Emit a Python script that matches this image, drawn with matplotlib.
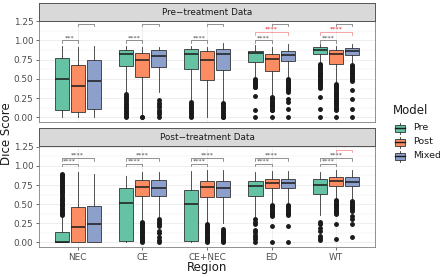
import matplotlib
matplotlib.use("Agg")
import matplotlib.pyplot as plt
from matplotlib.patches import Rectangle
from matplotlib.lines import Line2D

# ---------------- data ----------------
regions = ["NEC", "CE", "CE+NEC", "ED", "WT"]
models = ["Pre", "Post", "Mixed"]
model_colors = ["#66C2A5", "#FC8D62", "#8DA0CB"]
panel_titles = ["Pre\u2212treatment Data", "Post\u2212treatment Data"]
y_ticks = [0.00, 0.25, 0.50, 0.75, 1.00, 1.25]
y_tick_labels = ["0.00", "0.25", "0.50", "0.75", "1.00", "1.25"]

# Pre-treatment panel: per region, [Pre, Post, Mixed]
pre_med = [[0.505, 0.41, 0.475], [0.82, 0.745, 0.80], [0.82, 0.745, 0.82], [0.84, 0.757, 0.81], [0.875, 0.83, 0.86]]
pre_q1 = [[0.09, 0.07, 0.113], [0.67, 0.52, 0.65], [0.625, 0.483, 0.61], [0.72, 0.60, 0.73], [0.818, 0.70, 0.81]]
pre_q3 = [[0.766, 0.675, 0.745], [0.875, 0.84, 0.875], [0.885, 0.86, 0.888], [0.866, 0.83, 0.866], [0.918, 0.875, 0.905]]
pre_lo = [[0.0, 0.0, 0.0], [0.31, 0.03, 0.33], [0.22, 0.0, 0.21], [0.52, 0.28, 0.51], [0.71, 0.45, 0.69]]
pre_hi = [[0.927, 0.91, 0.93], [0.925, 0.92, 0.92], [0.93, 0.92, 0.97], [0.94, 0.92, 0.96], [0.953, 0.93, 0.95]]
pre_fliers = [
    [[], [], []],
    [[0.30, 0.28, 0.26, 0.24, 0.22, 0.20, 0.18, 0.16, 0.14, 0.12, 0.10, 0.08, 0.06, 0.04, 0.02, 0.0],
     [0.01, 0.0],
     [0.22, 0.19, 0.16, 0.13, 0.10, 0.07, 0.04, 0.0]],
    [[0.20, 0.18, 0.16, 0.14, 0.12, 0.10, 0.08, 0.06, 0.04, 0.02, 0.0],
     [],
     [0.19, 0.17, 0.15, 0.13, 0.11, 0.09, 0.07, 0.05, 0.03, 0.01, 0.0]],
    [[0.505, 0.49, 0.475, 0.46, 0.445, 0.43, 0.415, 0.40, 0.39, 0.275, 0.10, 0.0],
     [0.265, 0.25, 0.235, 0.22, 0.205, 0.19, 0.175, 0.16, 0.145, 0.13, 0.115, 0.10, 0.09, 0.0],
     [0.50, 0.485, 0.47, 0.455, 0.44, 0.425, 0.41, 0.395, 0.38, 0.365, 0.35, 0.335, 0.245, 0.20, 0.11, 0.0]],
    [[0.70, 0.685, 0.67, 0.655, 0.64, 0.625, 0.61, 0.595, 0.58, 0.565, 0.55, 0.535, 0.52, 0.505, 0.49,
      0.475, 0.46, 0.445, 0.43, 0.415, 0.40, 0.385, 0.265, 0.11, 0.0],
     [0.44, 0.425, 0.41, 0.395, 0.38, 0.365, 0.35, 0.335, 0.32, 0.305, 0.29, 0.275, 0.26, 0.245, 0.23,
      0.215, 0.20, 0.185, 0.17, 0.155, 0.14, 0.125, 0.11, 0.095, 0.0],
     [0.68, 0.665, 0.65, 0.635, 0.62, 0.605, 0.59, 0.575, 0.56, 0.545, 0.53, 0.515, 0.50, 0.485, 0.47,
      0.35, 0.245, 0.11, 0.0]],
]

# Post-treatment panel
post_med = [[0.01, 0.204, 0.235], [0.52, 0.72, 0.715], [0.50, 0.727, 0.715], [0.735, 0.78, 0.78], [0.75, 0.80, 0.79]]
post_q1 = [[0.0, 0.0, 0.0], [0.02, 0.605, 0.61], [0.02, 0.59, 0.59], [0.605, 0.705, 0.71], [0.627, 0.735, 0.735]]
post_q3 = [[0.14, 0.458, 0.475], [0.705, 0.81, 0.81], [0.69, 0.805, 0.805], [0.805, 0.835, 0.835], [0.827, 0.85, 0.85]]
post_lo = [[0.0, 0.0, 0.0], [0.0, 0.30, 0.32], [0.0, 0.26, 0.26], [0.33, 0.51, 0.51], [0.36, 0.56, 0.57]]
post_hi = [[0.33, 0.92, 0.89], [0.87, 0.92, 0.92], [0.93, 0.945, 0.94], [0.915, 0.93, 0.93], [0.923, 0.94, 0.95]]
post_fliers = [
    [[0.90, 0.885, 0.87, 0.855, 0.84, 0.82, 0.80, 0.785, 0.77, 0.755, 0.74, 0.72, 0.70, 0.685, 0.67, 0.655,
      0.64, 0.62, 0.60, 0.585, 0.57, 0.555, 0.54, 0.52, 0.50, 0.485, 0.47, 0.455, 0.44, 0.42, 0.40,
      0.385, 0.37, 0.357],
     [], []],
    [[],
     [0.27, 0.255, 0.24, 0.225, 0.21, 0.195, 0.18, 0.165, 0.15, 0.135, 0.12, 0.105, 0.09, 0.075, 0.06,
      0.045, 0.03, 0.015, 0.0],
     [0.30, 0.28, 0.26, 0.24, 0.22, 0.15, 0.12, 0.07, 0.03, 0.0]],
    [[],
     [0.24, 0.225, 0.21, 0.195, 0.18, 0.165, 0.15, 0.135, 0.12, 0.105, 0.09, 0.075, 0.06, 0.045, 0.03,
      0.015, 0.0],
     [0.17, 0.155, 0.14, 0.125, 0.11, 0.095, 0.08, 0.065, 0.05, 0.035, 0.02, 0.0]],
    [[0.30, 0.27, 0.24, 0.16, 0.13, 0.10, 0.07, 0.04, 0.01],
     [0.49, 0.475, 0.46, 0.445, 0.43, 0.415, 0.40, 0.385, 0.37, 0.355, 0.34, 0.22, 0.0],
     [0.49, 0.475, 0.46, 0.445, 0.43, 0.415, 0.40, 0.385, 0.37, 0.355, 0.22, 0.0]],
    [[0.27, 0.24, 0.19, 0.15, 0.09, 0.06, 0.03],
     [0.55, 0.535, 0.52, 0.505, 0.49, 0.475, 0.46, 0.445, 0.43, 0.415, 0.40, 0.385, 0.37, 0.235, 0.05],
     [0.54, 0.525, 0.51, 0.495, 0.48, 0.465, 0.45, 0.435, 0.41, 0.34, 0.30, 0.235, 0.07]],
]

# significance brackets: (region index, model a, model b, y, label, colour)
pre_brackets = [
    (0, 0, 1, 1.00, "***", "k"), (0, 1, 2, 1.22, "****", "k"),
    (1, 0, 1, 1.00, "****", "k"), (1, 1, 2, 1.22, "****", "k"),
    (2, 0, 1, 1.00, "****", "k"), (2, 1, 2, 1.22, "****", "k"),
    (3, 0, 1, 1.00, "****", "k"), (3, 0, 2, 1.105, "****", "r"), (3, 1, 2, 1.22, "****", "k"),
    (4, 0, 1, 1.00, "****", "k"), (4, 0, 2, 1.105, "****", "r"), (4, 1, 2, 1.22, "****", "k"),
]
post_brackets = [
    (0, 0, 1, 1.03, "****", "k"), (0, 0, 2, 1.10, "****", "k"),
    (1, 0, 1, 1.03, "****", "k"), (1, 0, 2, 1.10, "****", "k"),
    (2, 0, 1, 1.03, "****", "k"), (2, 0, 2, 1.10, "****", "k"),
    (3, 0, 1, 1.03, "****", "k"), (3, 0, 2, 1.10, "****", "k"),
    (4, 0, 1, 1.03, "****", "k"), (4, 0, 2, 1.10, "****", "k"), (4, 1, 2, 1.21, "*", "r"),
]

# ---------------- layout ----------------
W, H = 440, 277
fig = plt.figure(figsize=(W / 100, H / 100), dpi=100)
fig.patch.set_facecolor("white")


def fx(px):
    return px / W


def fy(py):
    return 1 - py / H


left_px, right_px = 39, 375
panels = [
    dict(top=20.5, bottom=122, strip_top=3),
    dict(top=146, bottom=247, strip_top=128),
]
dodge = 0.25
box_w = 0.22
grid_col = "#EBEBEB"
border_col = "#7F7F7F"

all_stats = [
    (pre_med, pre_q1, pre_q3, pre_lo, pre_hi, pre_fliers, pre_brackets),
    (post_med, post_q1, post_q3, post_lo, post_hi, post_fliers, post_brackets),
]

for p, (pan, data) in enumerate(zip(panels, all_stats)):
    med, q1, q3, lo, hi, fl, br = data
    ax = fig.add_axes([fx(left_px), fy(pan["bottom"]), (right_px - left_px) / W,
                       (pan["bottom"] - pan["top"]) / H])
    sax = fig.add_axes([fx(left_px), fy(pan["top"]), (right_px - left_px) / W,
                        (pan["top"] - pan["strip_top"]) / H])
    sax.set_facecolor("#D9D9D9")
    sax.set_xticks([])
    sax.set_yticks([])
    for s in sax.spines.values():
        s.set_color("#555555")
        s.set_linewidth(0.7)
    sax.text(0.5, 0.48, panel_titles[p], ha="center", va="center", fontsize=6.4,
             color="#1A1A1A", transform=sax.transAxes)

    ax.set_xlim(0.4, 5.6)
    ax.set_ylim(-0.06, 1.26)
    ax.set_yticks(y_ticks)
    ax.set_yticklabels(y_tick_labels)
    ax.set_yticks([0.125, 0.375, 0.625, 0.875, 1.125], minor=True)
    ax.set_xticks(range(1, 6))
    ax.grid(True, which="major", color=grid_col, lw=0.6, zorder=0)
    ax.grid(True, which="minor", axis="y", color=grid_col, lw=0.35, zorder=0)
    ax.set_axisbelow(True)
    ax.tick_params(axis="y", which="minor", length=0)
    ax.tick_params(axis="both", which="major", labelsize=6.4, colors="#333333",
                   length=2.5, width=0.5, pad=1.5)
    ax.tick_params(axis="y", labelcolor="#4D4D4D")
    ax.tick_params(axis="x", labelcolor="#4D4D4D")
    if p == 0:
        ax.tick_params(axis="x", length=0, labelbottom=False)
    else:
        ax.set_xticklabels(regions)
    for s in ax.spines.values():
        s.set_color(border_col)
        s.set_linewidth(0.6)

    for j, col in enumerate(model_colors):
        stats = []
        pos = []
        for i in range(len(regions)):
            stats.append(dict(med=med[i][j], q1=q1[i][j], q3=q3[i][j], whislo=lo[i][j],
                              whishi=hi[i][j], fliers=fl[i][j]))
            pos.append(i + 1 + (j - 1) * dodge)
        ax.bxp(stats, positions=pos, widths=box_w, patch_artist=True, showcaps=False,
               boxprops=dict(facecolor=col, edgecolor="#333333", linewidth=0.6),
               medianprops=dict(color="#1A1A1A", linewidth=1.1),
               whiskerprops=dict(color="#333333", linewidth=0.6),
               flierprops=dict(marker="o", markerfacecolor="#1A1A1A", markeredgecolor="#1A1A1A",
                               markersize=2.5, linestyle="none"),
               manage_ticks=False, zorder=3)

    tip = 0.03
    for (ri, a, b, yv, lab, c) in br:
        col = "#F08080" if c == "r" else "#666666"
        tcol = "#E41A1C" if c == "r" else "#444444"
        xa = ri + 1 + (a - 1) * dodge
        xb = ri + 1 + (b - 1) * dodge
        ax.plot([xa, xa, xb, xb], [yv - tip, yv, yv, yv - tip], color=col, lw=0.5, zorder=4,
                clip_on=False)
        ax.text((xa + xb) / 2, yv + 0.005, lab, ha="center", va="bottom", fontsize=4.6,
                color=tcol, zorder=4)

# axis labels
fig.text(fx(7), fy(134), "Dice Score", rotation=90, ha="center", va="center", fontsize=8.5,
         color="#1A1A1A")
fig.text(fx(207), fy(268), "Region", ha="center", va="center", fontsize=8.5, color="#1A1A1A")

# legend (manual)
fig.text(fx(393), fy(111), "Model", ha="left", va="center", fontsize=8.5, color="#1A1A1A")
lax = fig.add_axes([0, 0, 1, 1], facecolor="none")
lax.set_xlim(0, W)
lax.set_ylim(H, 0)
lax.axis("off")
for k, (m, col) in enumerate(zip(models, model_colors)):
    cy = 128 + k * 14
    lax.add_patch(Rectangle((395, cy - 3.5), 10, 7, facecolor=col, edgecolor="#333333", lw=0.6))
    lax.add_line(Line2D([395, 405], [cy, cy], color="#1A1A1A", lw=1.0))
    lax.add_line(Line2D([400, 400], [cy - 5.5, cy - 3.5], color="#333333", lw=0.6))
    lax.add_line(Line2D([400, 400], [cy + 3.5, cy + 5.5], color="#333333", lw=0.6))
    lax.text(413, cy, m, ha="left", va="center", fontsize=6.8, color="#1A1A1A")

fig.savefig("out.png", dpi=100)
